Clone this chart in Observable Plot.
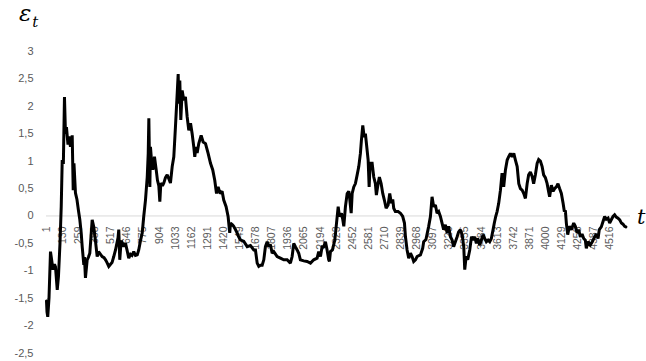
<!DOCTYPE html>
<html>
<head>
<meta charset="utf-8">
<script src="https://cdn.jsdelivr.net/npm/d3@7"></script>
<script src="https://cdn.jsdelivr.net/npm/@observablehq/plot@0.6"></script>
<style>
  html, body { margin: 0; padding: 0; background: #fff; }
  #wrap { position: relative; width: 646px; height: 361px; overflow: hidden; }
  .lbl { position: absolute; font-family: "DejaVu Serif", serif; font-style: italic; color: #000; line-height: 1; }
</style>
</head>
<body>
<div id="wrap">
  <div id="chart"></div>
  <div class="lbl" style="left:19px; top:2px; font-size:23px;">ε<span style="font-size:15px; position:relative; top:6px; left:1px;">t</span></div>
  <div class="lbl" style="left:637px; top:207px; font-size:21px;">t</div>
</div>
<script>
// Tick labels of the category axis (every 129th observation)
const xTickLabels = [1,130,259,388,517,646,775,904,1033,1162,1291,1420,1549,1678,1807,1936,2065,2194,2323,2452,2581,2710,2839,2968,3097,3226,3355,3484,3613,3742,3871,4000,4129,4258,4387,4516];
const yTickValues = [-2.5,-2,-1.5,-1,-0.5,0,0.5,1,1.5,2,2.5,3];

const tIndex = [
1,5,11,21,33,45,53,65,73,87,97,109,119,127,136,145,153,161,173,181,193,207,215,221,233,245,257,268,279,287,300,305,313,327,337,348,367,380,393,407,418,434,447,462,474,486,500,514,526,540,554,562,574,580,588,599,610,620,634,646,660,674,686,700,714,728,740,
754,768,780,794,808,816,821,829,834,842,853,866,880,890,901,909,917,930,941,954,968,981,994,1008,1021,1034,1048,1056,1061,1069,1077,1088,1101,1114,1128,1141,1155,1168,1181,1189,1198,1208,1221,1240,1256,1275,1296,1315,1333,1349,1363,1376,1392,1408,1421,1440,1456,1469,1475,1491,
1501,1515,1528,1541,1555,1581,1609,1635,1662,1675,1689,1702,1715,1729,1742,1755,1769,1782,1795,1809,1822,1849,1875,1902,1929,1955,1969,1982,1995,2009,2022,2035,2062,2089,2116,2142,2169,2182,2196,2209,2222,2236,2249,2262,
2268,2276,2292,2311,2322,2338,2348,2364,2375,2383,2396,2410,2423,2431,2442,2450,2463,2476,2490,2503,2516,2524,2535,2546,2556,2567,2578,2586,2594,2610,2623,2636,2644,2658,2668,2682,2695,2708,2722,2738,2751,2764,2775,2783,2796,2818,2837,2855,2869,2877,2890,2903,2917,2930,2943,2957,2970,2997,
3015,3023,3041,3063,3077,3090,3103,3117,3130,3143,3157,3170,3183,3197,3211,3223,3237,3251,3263,3277,3291,3303,3317,3331,3344,3352,3363,3376,3392,3406,3419,3432,3445,3456,3472,3485,3499,3512,3525,3539,3552,3565,3579,3589,3600,3611,3624,3638,3651,3664,3678,3692,3704,3718,3732,3745,3758,3772,
3785,3798,3812,3825,3838,3852,3864,3878,3892,3904,3918,3932,3944,3958,3972,3984,3998,4012,4024,4032,4046,4060,4073,4086,4099,4112,4126,4140,4150,4158,4166,4177,4190,4206,4225,4238,4252,4265,4278,4292,4305,4318,4326,4340,4358,4374,4393,4406,4420,4430,4446,4460,4473,4486,4500,4513,4526,4540,4553,4566,4580,4594,4607,4620,4633,4643
];
const epsValues = [
-1.55,-1.75,-1.84,-1.5,-0.65,-0.85,-0.98,-0.88,-0.93,-1.35,-1.1,-0.5,0.17,1.02,0.95,2.17,1.5,1.62,1.3,1.45,1.26,1.47,0.47,0.96,0.42,0.3,0.1,-0.07,-0.31,-0.56,-0.89,-0.75,-1.13,-0.8,-0.75,-0.68,-0.07,-0.2,-0.45,-0.74,-0.65,-0.7,-0.74,-0.76,-0.8,-0.85,-0.92,-0.88,-0.85,-0.74,-0.62,-0.53,-0.4,-0.25,-0.8,-0.45,-0.5,-0.56,-0.5,-0.62,-0.77,-0.7,-0.72,-0.65,-0.72,-0.71,-0.62,
-0.45,-0.31,-0.01,0.29,0.71,1.14,1.78,0.53,1.26,1.02,0.84,1.08,0.84,0.65,0.55,0.26,0.6,0.55,0.6,0.7,0.75,0.68,0.6,0.9,1.08,1.62,2.23,2.59,2.05,2.47,1.75,2.29,2.11,2.17,1.81,1.56,1.69,1.5,1.26,1.08,1.26,1.15,1.32,1.47,1.35,1.32,1.14,0.96,0.84,0.65,0.41,0.53,0.41,0.45,0.29,0.17,-0.01,-0.31,-0.13,-0.16,
-0.19,-0.25,-0.31,-0.38,-0.44,-0.46,-0.56,-0.54,-0.62,-0.62,-0.86,-0.92,-0.9,-0.9,-0.8,-0.56,-0.47,-0.56,-0.52,-0.68,-0.65,-0.74,-0.77,-0.8,-0.8,-0.86,-0.74,-0.5,-0.56,-0.62,-0.68,-0.8,-0.82,-0.83,-0.86,-0.8,-0.77,-0.65,-0.74,-0.56,-0.56,-0.47,-0.62,-0.8,
-0.83,-0.65,-0.62,-0.44,-0.19,0.17,-0.01,0.05,-0.07,-0.19,0.17,0.41,0.45,0.3,0.05,0.41,0.53,0.59,0.75,0.9,1.14,1.38,1.65,1.44,1.5,1.26,1.02,0.53,0.96,0.96,0.71,0.59,0.38,0.59,0.71,0.59,0.41,0.29,0.14,0.2,0.41,0.23,0.3,0.14,0.08,0.08,0.05,-0.01,-0.13,-0.38,-0.62,-0.77,-0.68,-0.74,-0.83,-0.8,-0.74,-0.71,
-0.59,-0.47,-0.43,-0.19,-0.01,0.35,0.17,0.2,0.05,0.08,-0.01,-0.13,-0.25,-0.16,-0.31,-0.19,-0.38,-0.44,-0.56,-0.47,-0.38,-0.29,-0.25,-0.34,-0.56,-0.98,-0.74,-0.8,-0.62,-0.38,-0.44,-0.38,-0.5,-0.41,-0.53,-0.44,-0.34,-0.41,-0.47,-0.44,-0.47,-0.41,-0.25,-0.13,-0.01,0.08,0.23,0.47,0.78,0.53,0.84,1.02,1.08,1.14,1.08,1.14,1.02,0.9,
0.59,0.5,0.47,0.41,0.32,0.59,0.75,0.8,0.72,0.59,0.75,0.96,1.03,1.0,0.9,0.75,0.7,0.59,0.44,0.35,0.56,0.45,0.5,0.53,0.59,0.5,0.41,0.23,0.08,0.1,-0.13,-0.34,-0.19,-0.25,-0.13,-0.19,-0.31,-0.25,-0.38,-0.33,-0.41,-0.44,-0.59,-0.47,-0.53,-0.47,-0.38,-0.33,-0.41,-0.25,-0.2,-0.1,-0.01,-0.06,-0.04,-0.13,-0.07,-0.01,0.02,-0.02,-0.04,-0.07,-0.13,-0.15,-0.19,-0.2
];

const series = tIndex.map((t, i) => ({t, v: epsValues[i]}));

const chart = Plot.plot({
  width: 646,
  height: 361,
  marginLeft: 46,
  marginRight: 16,
  marginTop: 51,
  marginBottom: 8.5,
  style: {fontFamily: "'Liberation Sans', Arial, sans-serif", background: "#fff"},
  x: {domain: [1, 4680], axis: null},
  y: {domain: [-2.5, 3], axis: null},
  marks: [
    Plot.axisY(yTickValues, {
      tickSize: 0, tickPadding: 13, label: null,
      tickFormat: d => String(d).replace(".", ","),
      fill: "#595959", fontSize: 11
    }),
    Plot.ruleY([0], {stroke: "#d9d9d9", strokeWidth: 1, x1: 1, x2: 4680}),
    Plot.text(xTickLabels, {
      x: d => d, y: 0, text: d => String(d),
      rotate: -90, textAnchor: "end", dy: 10.5,
      fill: "#595959", fontSize: 10.5
    }),
    Plot.line(series, {x: "t", y: "v", stroke: "#000", strokeWidth: 3, strokeLinejoin: "miter", strokeMiterlimit: 2})
  ]
});
document.getElementById("chart").appendChild(chart);
</script>
</body>
</html>
